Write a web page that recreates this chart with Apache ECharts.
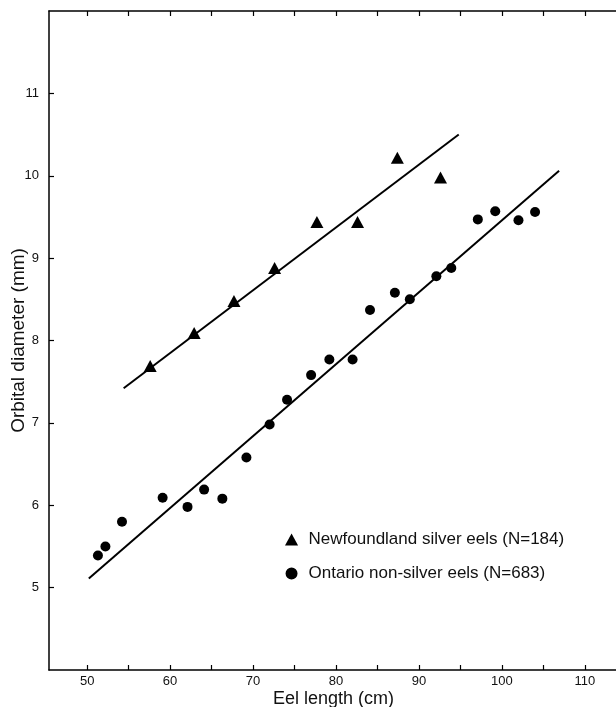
<!DOCTYPE html>
<html>
<head>
<meta charset="utf-8">
<script src="https://cdn.jsdelivr.net/npm/echarts@6/dist/echarts.min.js"></script>
<style>
html,body{margin:0;padding:0;background:#fff;}
#chart{width:616px;height:707px;}
</style>
</head>
<body>
<div id="chart"></div>
<script>
// Newfoundland silver eels (triangles)
var nfX = [57.6, 62.9, 67.7, 72.6, 77.7, 82.6, 87.4, 92.6];
var nfY = [7.69, 8.09, 8.48, 8.88, 9.44, 9.44, 10.22, 9.98];
// Ontario non-silver eels (circles)
var onX = [51.3, 52.2, 54.2, 59.1, 62.1, 64.1, 66.3, 69.2, 72.0, 74.1, 77.0, 79.2, 82.0, 84.1, 87.1, 88.9, 92.1, 93.9, 97.1, 99.2, 102.0, 104.0];
var onY = [5.39, 5.50, 5.80, 6.09, 5.98, 6.19, 6.08, 6.58, 6.98, 7.28, 7.58, 7.77, 7.77, 8.37, 8.58, 8.50, 8.78, 8.88, 9.47, 9.57, 9.46, 9.56];
// fitted lines (end points)
var nfLineX = [54.4, 94.8];
var nfLineY = [7.42, 10.5];
var onLineX = [50.2, 106.9];
var onLineY = [5.11, 10.06];
// tick values
var xTicks = [50, 55, 60, 65, 70, 75, 80, 85, 90, 95, 100, 105, 110];
var xLabels = [50, 60, 70, 80, 90, 100, 110];
var nfName = 'Newfoundland silver eels (N=184)';
var onName = 'Ontario non-silver eels (N=683)';

function pairs(xs, ys) { return xs.map(function (x, i) { return [x, ys[i]]; }); }

var FONT = 'Liberation Sans';
var chart = echarts.init(document.getElementById('chart'), null, {renderer: 'canvas'});
chart.setOption({
  backgroundColor: '#ffffff',
  animation: false,
  grid: {left: 49, right: -2, top: 11, bottom: 37, outerBoundsMode: 'none', containLabel: false},
  legend: {
    orient: 'vertical',
    left: 280,
    top: 525,
    itemWidth: 24,
    itemHeight: 12,
    itemGap: 15,
    symbolKeepAspect: true,
    selectedMode: false,
    textStyle: {fontFamily: FONT, fontSize: 17, color: '#111', lineHeight: 19},
    data: [
      {name: nfName, icon: 'path://M6,0 L12,11 L0,11 Z', itemStyle: {color: '#000', opacity: 1}},
      {name: onName, icon: 'path://M5,0 A5,5 0 1,1 4.99,0 Z', itemStyle: {color: '#000', opacity: 1}}
    ]
  },
  xAxis: [{
    type: 'value',
    position: 'bottom',
    min: 45.4,
    max: 114,
    name: 'Eel length (cm)',
    nameLocation: 'middle',
    nameGap: 20,
    nameMoveOverlap: false,
    nameTextStyle: {fontFamily: FONT, fontSize: 18, color: '#111'},
    axisLine: {onZero: false, lineStyle: {color: '#000', width: 1.5}},
    axisTick: {inside: true, length: 5, customValues: xTicks, lineStyle: {color: '#000', width: 1.2}},
    axisLabel: {customValues: xLabels, fontFamily: FONT, fontSize: 13, color: '#111', margin: 5},
    splitLine: {show: false}
  }, {
    type: 'value',
    position: 'top',
    min: 45.4,
    max: 114,
    axisLine: {onZero: false, lineStyle: {color: '#000', width: 1.5}},
    axisTick: {inside: true, length: 5, customValues: xTicks, lineStyle: {color: '#000', width: 1.2}},
    axisLabel: {show: false},
    splitLine: {show: false}
  }],
  yAxis: {
    type: 'value',
    min: 4,
    max: 12,
    interval: 1,
    name: 'Orbital diameter (mm)',
    nameLocation: 'middle',
    nameGap: 21,
    nameMoveOverlap: false,
    nameTextStyle: {fontFamily: FONT, fontSize: 19, color: '#111'},
    axisLine: {show: true, onZero: false, lineStyle: {color: '#000', width: 1.5}},
    axisTick: {show: true, inside: true, length: 5, lineStyle: {color: '#000', width: 1.2}},
    axisLabel: {showMinLabel: false, showMaxLabel: false, fontFamily: FONT, fontSize: 13, color: '#111', margin: 10},
    splitLine: {show: false}
  },
  series: [
    {
      name: nfName, type: 'scatter', symbol: 'triangle', symbolSize: [13, 12],
      itemStyle: {color: '#000', opacity: 1}, data: pairs(nfX, nfY), z: 3
    },
    {
      name: onName, type: 'scatter', symbol: 'circle', symbolSize: 10,
      itemStyle: {color: '#000', opacity: 1}, data: pairs(onX, onY), z: 3
    },
    {
      name: 'nfFit', type: 'line', showSymbol: false, silent: true,
      lineStyle: {color: '#000', width: 2}, data: pairs(nfLineX, nfLineY), z: 2
    },
    {
      name: 'onFit', type: 'line', showSymbol: false, silent: true,
      lineStyle: {color: '#000', width: 2}, data: pairs(onLineX, onLineY), z: 2
    }
  ]
});
</script>
</body>
</html>
